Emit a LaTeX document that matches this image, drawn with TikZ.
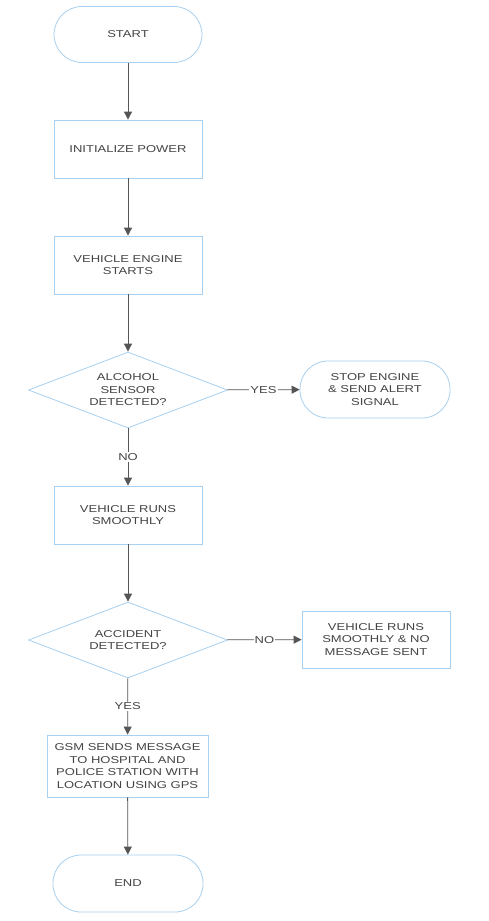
\documentclass[tikz,border=0pt]{standalone}
\usepackage{fontspec}
\setmainfont[FakeStretch=1.3]{Liberation Sans}
\usetikzlibrary{arrows.meta,shapes.geometric}
\definecolor{bord}{HTML}{A8D0F0}
\definecolor{txt}{HTML}{444444}
\definecolor{lin}{HTML}{555555}
\tikzset{
  base/.style={draw=bord, line width=0.8pt, fill=white, text=txt, align=center, font=\fontsize{10}{12.5}\selectfont, inner sep=0pt},
  term/.style={base, minimum width=148pt, minimum height=56pt, rounded corners=28pt},
  procbox/.style={base, minimum width=148pt, minimum height=58pt},
  decide/.style={base, diamond, minimum width=199pt, minimum height=76pt},
  dtext/.style={text=txt, align=center, font=\fontsize{10}{12.5}\selectfont, inner sep=0pt},
  conn/.style={draw=lin, line width=0.8pt, -{Triangle[length=8pt,width=8pt]}},
  lab/.style={text=txt, font=\fontsize{10}{12}\selectfont, fill=white, inner sep=1pt}
}
\begin{document}
\begin{tikzpicture}[x=1pt,y=1pt]
\useasboundingbox (0,0) rectangle (488,-921);
\node[term] (start) at (128,-34.5) {START};
\node[procbox] (init) at (128,-149) {INITIALIZE POWER};
\node[procbox] (eng) at (128,-265) {VEHICLE ENGINE\\STARTS};
\node[decide] (alc) at (128,-390) {};
\node[dtext] (alct) at (alc) {ALCOHOL\\SENSOR\\DETECTED?};
\node[term, minimum width=150pt, minimum height=57pt] (stop) at (375,-389.5) {STOP ENGINE\\\& SEND ALERT\\SIGNAL};
\node[procbox] (runs) at (128,-515) {VEHICLE RUNS\\SMOOTHLY};
\node[decide] (acc) at (128,-640) {};
\node[dtext] (acct) at (acc) {ACCIDENT\\DETECTED?};
\node[procbox, minimum width=148pt, minimum height=57pt] (nomsg) at (376,-639.5) {VEHICLE RUNS\\SMOOTHLY \& NO\\MESSAGE SENT};
\node[procbox, minimum width=161pt, minimum height=62pt] (gsm) at (127.5,-766) {GSM SENDS MESSAGE\\TO HOSPITAL AND\\POLICE STATION WITH\\LOCATION USING GPS};
\node[term, minimum width=150pt, minimum height=57pt] (end) at (128,-883.5) {END};
\draw[conn] (start) -- (init);
\draw[conn] (init) -- (eng);
\draw[conn] (eng) -- (alc);
\draw[conn] (alc) -- node[lab] {YES} (stop);
\draw[conn] (alc) -- node[lab, pos=0.5] {NO} (runs);
\draw[conn] (runs) -- (acc);
\draw[conn] (acc) -- node[lab] {NO} (nomsg);
\draw[conn] (acc) -- node[lab] {YES} (gsm);
\draw[conn] (gsm) -- (end);
\end{tikzpicture}
\end{document}
